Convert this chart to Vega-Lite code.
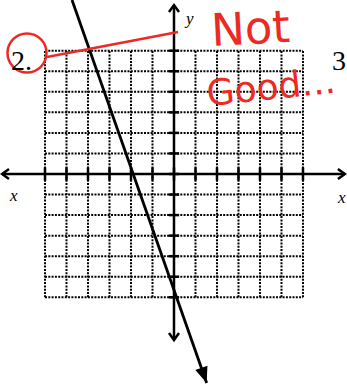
{
  "$schema": "https://vega.github.io/schema/vega-lite/v6.json",
  "width": 347,
  "height": 385,
  "padding": 0,
  "autosize": {"type": "none"},
  "background": "white",
  "config": {"view": {"stroke": null}},
  "datasets": {
    "grid": [{"v": -6}, {"v": -5}, {"v": -4}, {"v": -3}, {"v": -2}, {"v": -1}, {"v": 0}, {"v": 1}, {"v": 2}, {"v": 3}, {"v": 4}, {"v": 5}, {"v": 6}],
    "line": [{"x": -4.744, "y": 8.467}, {"x": 1.521, "y": -10.17}],
    "one": [{}]
  },
  "layer": [
    {
      "data": {"name": "grid"},
      "mark": {"type": "rule", "color": "black", "strokeWidth": 2, "strokeDash": [2, 1.3]},
      "encoding": {
        "x": {"field": "v", "type": "quantitative", "scale": {"domain": [-8.093, 8.047], "nice": false, "zero": false}, "axis": null},
        "y": {"datum": -6, "type": "quantitative", "scale": {"domain": [-10.268, 8.467], "nice": false, "zero": false}, "axis": null},
        "y2": {"datum": 6}
      }
    },
    {
      "data": {"name": "grid"},
      "mark": {"type": "rule", "color": "black", "strokeWidth": 2, "strokeDash": [2, 1.3]},
      "encoding": {
        "y": {"field": "v", "type": "quantitative"},
        "x": {"datum": -6, "type": "quantitative"},
        "x2": {"datum": 6}
      }
    },
    {
      "data": {"name": "grid"},
      "mark": {"type": "rule", "color": "black", "strokeWidth": 2.5},
      "encoding": {
        "x": {"field": "v", "type": "quantitative"},
        "y": {"datum": -0.32, "type": "quantitative"},
        "y2": {"datum": 0.32}
      }
    },
    {
      "data": {"name": "grid"},
      "mark": {"type": "rule", "color": "black", "strokeWidth": 2.5},
      "encoding": {
        "y": {"field": "v", "type": "quantitative"},
        "x": {"datum": -0.24, "type": "quantitative"},
        "x2": {"datum": 0.24}
      }
    },
    {
      "data": {"name": "one"},
      "mark": {"type": "rule", "color": "black", "strokeWidth": 2.5},
      "encoding": {
        "x": {"datum": -8.0, "type": "quantitative"},
        "x2": {"datum": 7.95},
        "y": {"datum": 0, "type": "quantitative"}
      }
    },
    {
      "data": {"name": "one"},
      "mark": {"type": "rule", "color": "black", "strokeWidth": 2.5},
      "encoding": {
        "x": {"datum": 0, "type": "quantitative"},
        "y": {"datum": 8.22, "type": "quantitative"},
        "y2": {"datum": -8.08}
      }
    },
    {
      "data": {"name": "one"},
      "mark": {"type": "point", "shape": "M-1,1.4L0,0L1,1.4", "filled": false, "stroke": "black", "strokeWidth": 2.5, "size": 100, "opacity": 1, "angle": 0},
      "encoding": {"x": {"datum": 0, "type": "quantitative"}, "y": {"datum": 8.22, "type": "quantitative"}}
    },
    {
      "data": {"name": "one"},
      "mark": {"type": "point", "shape": "M-1,1.4L0,0L1,1.4", "filled": false, "stroke": "black", "strokeWidth": 2.5, "size": 100, "opacity": 1, "angle": 180},
      "encoding": {"x": {"datum": 0, "type": "quantitative"}, "y": {"datum": -8.08, "type": "quantitative"}}
    },
    {
      "data": {"name": "one"},
      "mark": {"type": "point", "shape": "M-1,1.4L0,0L1,1.4", "filled": false, "stroke": "black", "strokeWidth": 2.5, "size": 100, "opacity": 1, "angle": 90},
      "encoding": {"x": {"datum": 7.95, "type": "quantitative"}, "y": {"datum": 0, "type": "quantitative"}}
    },
    {
      "data": {"name": "one"},
      "mark": {"type": "point", "shape": "M-1,1.4L0,0L1,1.4", "filled": false, "stroke": "black", "strokeWidth": 2.5, "size": 100, "opacity": 1, "angle": -90},
      "encoding": {"x": {"datum": -8.0, "type": "quantitative"}, "y": {"datum": 0, "type": "quantitative"}}
    },
    {
      "data": {"name": "line"},
      "mark": {"type": "line", "color": "black", "strokeWidth": 2.8},
      "encoding": {"x": {"field": "x", "type": "quantitative"}, "y": {"field": "y", "type": "quantitative"}}
    },
    {
      "data": {"name": "one"},
      "mark": {"type": "point", "shape": "M0,0L-0.6,-1.5L0.6,-1.5Z", "filled": true, "color": "black", "size": 460, "opacity": 1, "angle": -19.4},
      "encoding": {"x": {"datum": 1.521, "type": "quantitative"}, "y": {"datum": -10.17, "type": "quantitative"}}
    },
    {
      "data": {"name": "one"},
      "mark": {"type": "rule", "color": "#ec2a24", "strokeWidth": 2.5},
      "encoding": {
        "x": {"datum": -5.907, "type": "quantitative"},
        "y": {"datum": 5.693, "type": "quantitative"},
        "x2": {"datum": 0.186},
        "y2": {"datum": 6.91}
      }
    },
    {
      "data": {"name": "one"},
      "mark": {"type": "point", "shape": "circle", "filled": false, "stroke": "#ec2a24", "strokeWidth": 2.5, "size": 1521, "opacity": 1},
      "encoding": {"x": {"datum": -6.837, "type": "quantitative"}, "y": {"datum": 5.888, "type": "quantitative"}}
    },
    {
      "data": {"values": [{"t": "2.", "x": -7.581, "y": 5.061}, {"t": "3", "x": 7.349, "y": 5.061}]},
      "mark": {"type": "text", "font": "Liberation Serif", "fontSize": 28, "align": "left", "baseline": "alphabetic", "color": "black"},
      "encoding": {"x": {"field": "x", "type": "quantitative"}, "y": {"field": "y", "type": "quantitative"}, "text": {"field": "t"}}
    },
    {
      "data": {"values": [{"t": "y", "x": 0.558, "y": 7.299}, {"t": "x", "x": -7.628, "y": -1.314}, {"t": "x", "x": 7.628, "y": -1.411}]},
      "mark": {"type": "text", "font": "Liberation Serif", "fontStyle": "italic", "fontSize": 17, "align": "left", "baseline": "alphabetic", "color": "black"},
      "encoding": {"x": {"field": "x", "type": "quantitative"}, "y": {"field": "y", "type": "quantitative"}, "text": {"field": "t"}}
    },
    {
      "data": {"values": [{"t": "Not", "x": 1.767, "y": 6.228}]},
      "mark": {"type": "text", "font": "DejaVu Sans", "fontSize": 45, "align": "left", "baseline": "alphabetic", "color": "#ec2a24", "angle": -3},
      "encoding": {"x": {"field": "x", "type": "quantitative"}, "y": {"field": "y", "type": "quantitative"}, "text": {"field": "t"}}
    },
    {
      "data": {"values": [{"t": "Good...", "x": 1.581, "y": 3.309}]},
      "mark": {"type": "text", "font": "DejaVu Sans", "fontSize": 36, "align": "left", "baseline": "alphabetic", "color": "#ec2a24", "angle": -6},
      "encoding": {"x": {"field": "x", "type": "quantitative"}, "y": {"field": "y", "type": "quantitative"}, "text": {"field": "t"}}
    }
  ]
}
